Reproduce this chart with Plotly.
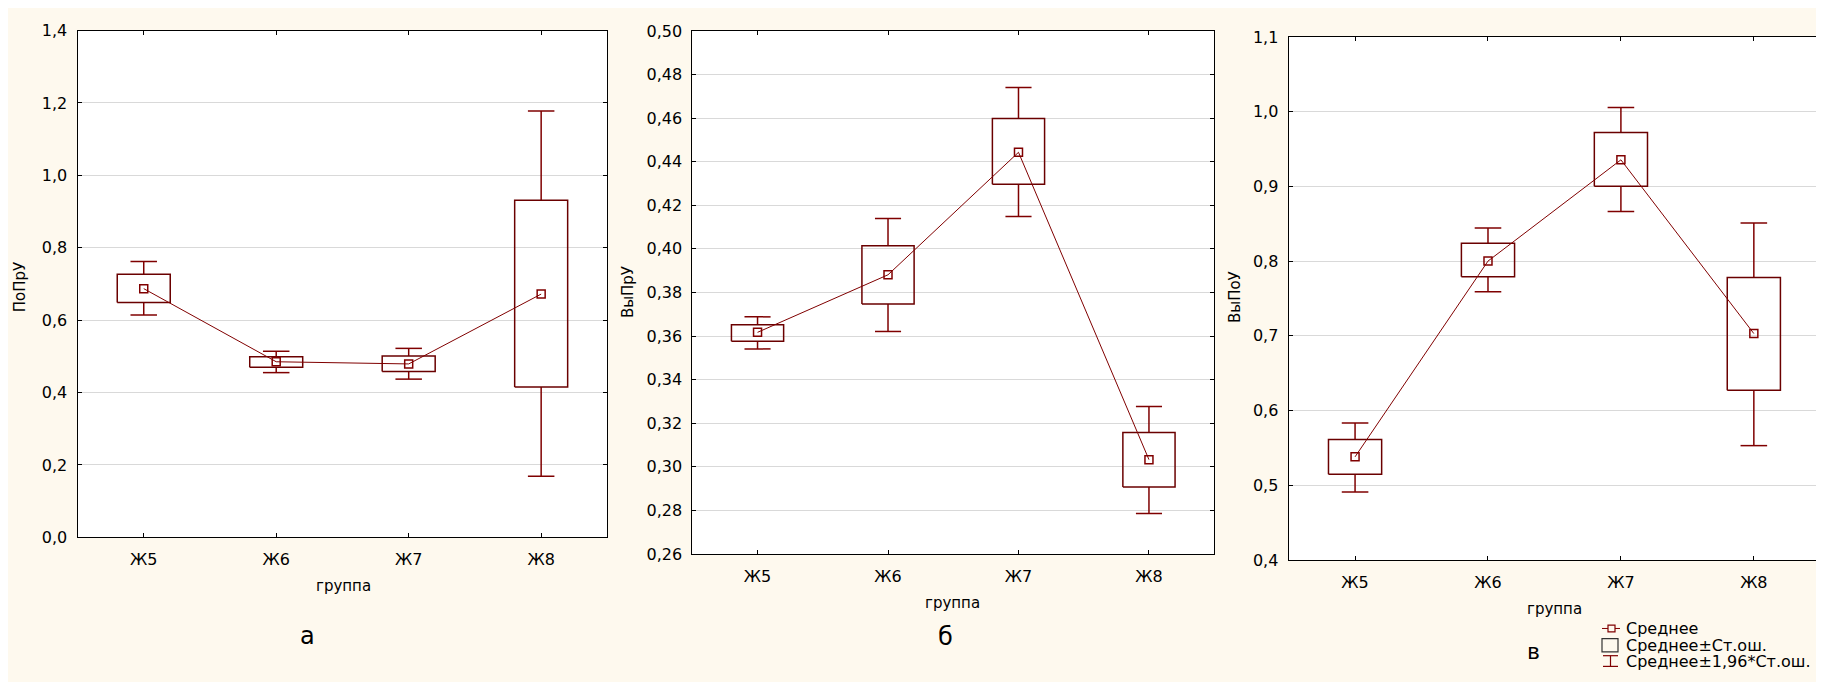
import plotly.graph_objects as go

W, H = 1824, 682

groups = ["Ж5", "Ж6", "Ж7", "Ж8"]

# Panel а: ПоПрУ
a_mean = [0.687, 0.485, 0.479, 0.672]
a_se_lo = [0.649, 0.470, 0.458, 0.415]
a_se_hi = [0.727, 0.499, 0.501, 0.931]
a_ci_lo = [0.614, 0.455, 0.437, 0.169]
a_ci_hi = [0.762, 0.514, 0.522, 1.178]

# Panel б: ВыПрУ
b_mean = [0.3617, 0.3881, 0.4443, 0.3033]
b_se_lo = [0.3576, 0.3747, 0.4296, 0.2908]
b_se_hi = [0.3652, 0.4014, 0.4598, 0.3157]
b_ci_lo = [0.3541, 0.3621, 0.4148, 0.2786]
b_ci_hi = [0.3688, 0.4139, 0.4740, 0.3277]

# Panel в: ВыПоУ
c_mean = [0.538, 0.800, 0.9355, 0.703]
c_se_lo = [0.5148, 0.779, 0.900, 0.627]
c_se_hi = [0.5611, 0.824, 0.972, 0.778]
c_ci_lo = [0.491, 0.759, 0.8665, 0.553]
c_ci_hi = [0.5832, 0.8444, 1.0056, 0.851]

y_titles = ["ПоПрУ", "ВыПрУ", "ВыПоУ"]
x_title = "группа"
panel_letters = ["а", "б", "в"]
legend_labels = ["Среднее", "Среднее±Ст.ош.", "Среднее±1,96*Ст.ош."]

FONT = "DejaVu Sans"
BG = "#FEF9EE"
BOX_C = "#6A0000"
WH_C = "#7F0000"
LINE_C = "#800000"


def fx(x):
    return x / W


def fy(y):
    return 1 - y / H


# pixel boxes of each plot area: left, right, top, bottom
areas = [(69.5, 599.4, 14.0, 535.2), (684.3, 1206.2, 14.3, 552.4), (1280.6, 1812.3, 20.5, 558.5)]
yranges = [(0.0, 1.4, 0.2, ".1f"), (0.26, 0.50, 0.02, ".2f"), (0.4, 1.1, 0.1, ".1f")]
panels = [
    (a_mean, a_se_lo, a_se_hi, a_ci_lo, a_ci_hi),
    (b_mean, b_se_lo, b_se_hi, b_ci_lo, b_ci_hi),
    (c_mean, c_se_lo, c_se_hi, c_ci_lo, c_ci_hi),
]

fig = go.Figure()
BW = 0.2   # half box width (category units)
CW = 0.1   # half cap width

for k, (mean, slo, shi, clo, chi) in enumerate(panels):
    xa = "x" if k == 0 else f"x{k+1}"
    ya = "y" if k == 0 else f"y{k+1}"
    bx, by, wx, wy = [], [], [], []
    for i in range(len(groups)):
        bx += [i - BW, i + BW, i + BW, i - BW, i - BW, None]
        by += [slo[i], slo[i], shi[i], shi[i], slo[i], None]
        wx += [i, i, None, i - CW, i + CW, None, i, i, None, i - CW, i + CW, None]
        wy += [shi[i], chi[i], None, chi[i], chi[i], None,
               slo[i], clo[i], None, clo[i], clo[i], None]
    fig.add_trace(go.Scatter(x=wx, y=wy, mode="lines", line=dict(color=WH_C, width=1.5),
                             xaxis=xa, yaxis=ya, showlegend=False, hoverinfo="skip"))
    fig.add_trace(go.Scatter(x=bx, y=by, mode="lines", line=dict(color=BOX_C, width=1.5),
                             xaxis=xa, yaxis=ya, showlegend=False, hoverinfo="skip"))
    fig.add_trace(go.Scatter(x=list(range(len(groups))), y=mean, mode="lines+markers",
                             line=dict(color=LINE_C, width=1),
                             marker=dict(symbol="square-open", size=8, color=LINE_C,
                                         line=dict(width=1.5, color=LINE_C)),
                             xaxis=xa, yaxis=ya, showlegend=False))

    l, r, t, b = areas[k]
    y0, y1, dt, fmt = yranges[k]
    axcommon = dict(showline=True, linecolor="black", linewidth=1, mirror="ticks",
                    ticks="inside", ticklen=4, tickcolor="black", zeroline=False,
                    tickfont=dict(family=FONT, size=16, color="black"))
    fig.layout[f"xaxis{'' if k == 0 else k+1}"] = dict(
        domain=[fx(l), fx(r)], anchor=ya, range=[-0.5, 3.5],
        tickmode="array", tickvals=list(range(len(groups))), ticktext=groups,
        showgrid=False, ticklabelstandoff=8, **axcommon)
    fig.layout[f"yaxis{'' if k == 0 else k+1}"] = dict(
        domain=[fy(b), fy(t)], anchor=xa, range=[y0, y1], dtick=dt, tick0=y0,
        tickformat=fmt, showgrid=True, gridcolor="#D9D9D9", gridwidth=1,
        ticklabelstandoff=6, **axcommon)

annos = []
# y titles
for (xc, yc), txt in zip([(12, 278), (620, 283), (1227, 288)], y_titles):
    annos.append(dict(x=fx(xc), y=fy(yc), xref="paper", yref="paper", text=txt,
                      showarrow=False, textangle=-90, xanchor="center", yanchor="middle",
                      font=dict(family=FONT, size=15, color="black")))
# x titles
for (xc, yc) in [(335, 585), (945, 603), (1546, 609)]:
    annos.append(dict(x=fx(xc), y=fy(yc), xref="paper", yref="paper", text=x_title,
                      showarrow=False, xanchor="center", yanchor="middle",
                      font=dict(family=FONT, size=15, color="black")))
# panel letters
for (xc, yc, sz), txt in zip([(299, 637, 24), (938, 638, 24), (1525, 653, 22)], panel_letters):
    annos.append(dict(x=fx(xc), y=fy(yc), xref="paper", yref="paper", text=txt,
                      showarrow=False, xanchor="center", yanchor="middle",
                      font=dict(family=FONT, size=sz, color="black")))
# legend text
for yc, txt in zip([629, 646, 663], legend_labels):
    annos.append(dict(x=fx(1616), y=fy(yc), xref="paper", yref="paper", text=txt,
                      showarrow=False, xanchor="left", yanchor="middle",
                      font=dict(family=FONT, size=16, color="black")))

shapes = [
    # legend: mean symbol (line + small square)
    dict(type="line", xref="paper", yref="paper", x0=fx(1594), x1=fx(1612), y0=fy(629), y1=fy(629),
         line=dict(color=LINE_C, width=1)),
    dict(type="rect", xref="paper", yref="paper", x0=fx(1600), x1=fx(1607), y0=fy(625.5), y1=fy(632.5),
         line=dict(color=LINE_C, width=1.2), fillcolor=BG),
    # legend: box symbol
    dict(type="rect", xref="paper", yref="paper", x0=fx(1594), x1=fx(1610), y0=fy(639.5), y1=fy(653),
         line=dict(color="#333333", width=1.2)),
    # legend: whisker symbol
    dict(type="line", xref="paper", yref="paper", x0=fx(1595), x1=fx(1610), y0=fy(657), y1=fy(657),
         line=dict(color=WH_C, width=1.2)),
    dict(type="line", xref="paper", yref="paper", x0=fx(1595), x1=fx(1610), y0=fy(668), y1=fy(668),
         line=dict(color=WH_C, width=1.2)),
    dict(type="line", xref="paper", yref="paper", x0=fx(1602.5), x1=fx(1602.5), y0=fy(657), y1=fy(668),
         line=dict(color=WH_C, width=1.2)),
]

fig.update_layout(
    width=W, height=H, margin=dict(l=0, r=0, t=0, b=0),
    paper_bgcolor=BG, plot_bgcolor="white",
    separators=",.", showlegend=False,
    annotations=annos, shapes=shapes,
    font=dict(family=FONT, size=15, color="black"),
)

fig.write_html("out.html")
